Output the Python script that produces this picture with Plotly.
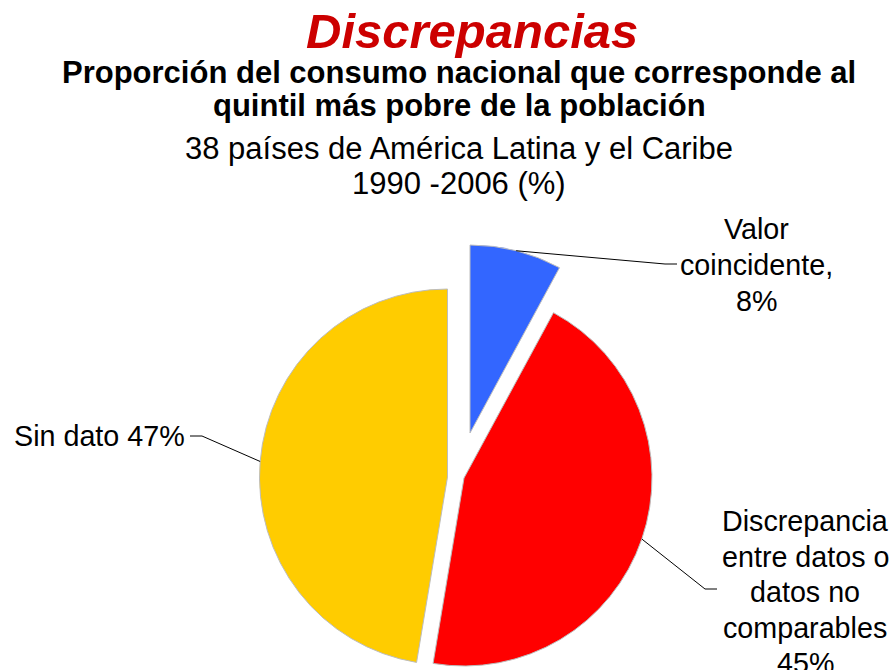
import math
import plotly.graph_objects as go

# ---------------- data ----------------
categories = ["Valor coincidente",
              "Discrepancia entre datos o datos no comparables",
              "Sin dato"]
country_counts = [3, 17, 18]          # of 38 countries
label_lines = [["Valor", "coincidente,"],
               ["Discrepancia", "entre datos o", "datos no", "comparables"],
               ["Sin dato"]]

title_main = "Discrepancias"
title_bold = ["Proporción del consumo nacional que corresponde al",
              "quintil más pobre de la población"]
title_sub = ["38 países de América Latina y el Caribe", "1990 -2006 (%)"]

# ---------------- style / layout ----------------
OFF = 0                      # page body margin removed via post_script
W, H = 894, 670
R = 188                      # pie radius, px
CENTER = (464, 478)          # pie centre, px from top-left
EXPLODE = [(6, -45), (0, 0), (-16.5, -1)]   # per-slice explosion offsets, px
COLORS = ["#3366FF", "#FF0000", "#FFCC00"]
EDGE = "#BDBDBD"
FONT = "Liberation Sans, Arial, sans-serif"
LABEL_SIZE = 28.7

# label placement: (x, first line y, line spacing, xanchor)
LABEL_POS = [(756, 229, 36, "center"),
             (805, 521, 35.5, "center"),
             (187, 436, 0, "right")]
ELBOWS = [((665, 264), (677, 264)),
          ((705, 589), (717, 589)),
          ((202, 436), (190, 436))]

def px2paper(x, y):
    return (x - OFF) / W, 1 - (y - OFF) / H

total = sum(country_counts)
fig = go.Figure()

cum = 0
for i, v in enumerate(country_counts):
    vx = CENTER[0] + EXPLODE[i][0]
    vy = CENTER[1] + EXPLODE[i][1]
    x0, y1 = px2paper(vx - R, vy - R)
    x1, y0 = px2paper(vx + R, vy + R)
    cols = [COLORS[j] if j == i else "rgba(0,0,0,0)" for j in range(len(country_counts))]
    lcols = [EDGE if j == i else "rgba(0,0,0,0)" for j in range(len(country_counts))]
    fig.add_trace(go.Pie(
        labels=categories, values=country_counts, sort=False,
        direction="clockwise", rotation=0,
        marker=dict(colors=cols, line=dict(color=lcols, width=1)),
        textinfo="none", hoverinfo="skip", showlegend=False,
        domain=dict(x=[x0, x1], y=[y0, y1]),
    ))

    # leader line from slice mid-angle on the arc
    mid = 2 * math.pi * (cum + v / 2) / total
    sx = vx + R * math.sin(mid)
    sy = vy - R * math.cos(mid)
    (ex1, ey1), (ex2, ey2) = ELBOWS[i]
    pts = [px2paper(sx, sy), px2paper(ex1, ey1), px2paper(ex2, ey2)]
    path = "M {} {} L {} {} L {} {}".format(*[c for p in pts for c in p])
    fig.add_shape(type="path", path=path, xref="paper", yref="paper",
                  line=dict(color="black", width=1))

    pct = "%d%%" % round(100 * v / total)
    if i == 2:
        lines = [" ".join(label_lines[i] + [pct])]
    else:
        lines = label_lines[i] + [pct]
    lx, ly, dy, xa = LABEL_POS[i]
    for k, t in enumerate(lines):
        ax_, ay_ = px2paper(lx, ly + k * dy)
        fig.add_annotation(x=ax_, y=ay_, xref="paper", yref="paper", text=t,
                           showarrow=False, xanchor=xa, yanchor="middle",
                           font=dict(family=FONT, size=LABEL_SIZE, color="black"))
    cum += v

# titles
x, y = px2paper(472, 31)
fig.add_annotation(x=x, y=y, xref="paper", yref="paper",
                   text="<b><i>%s</i></b>" % title_main, showarrow=False,
                   xanchor="center", yanchor="middle",
                   font=dict(family=FONT, size=49, color="#CC0000"))
for t, yy in zip(title_bold, [72, 106]):
    x, y = px2paper(459, yy)
    fig.add_annotation(x=x, y=y, xref="paper", yref="paper",
                       text="<b>%s</b>" % t, showarrow=False,
                       xanchor="center", yanchor="middle",
                       font=dict(family=FONT, size=31, color="black"))
for t, yy in zip(title_sub, [148, 183]):
    x, y = px2paper(459, yy)
    fig.add_annotation(x=x, y=y, xref="paper", yref="paper",
                       text=t, showarrow=False,
                       xanchor="center", yanchor="middle",
                       font=dict(family=FONT, size=31, color="black"))

fig.update_layout(width=W, height=H, margin=dict(l=0, r=0, t=0, b=0),
                  paper_bgcolor="white", plot_bgcolor="white")
fig.write_html("out.html",
               config={"displayModeBar": False},
               post_script="document.body.style.margin='0px';"
                           "document.body.style.overflow='hidden';")
